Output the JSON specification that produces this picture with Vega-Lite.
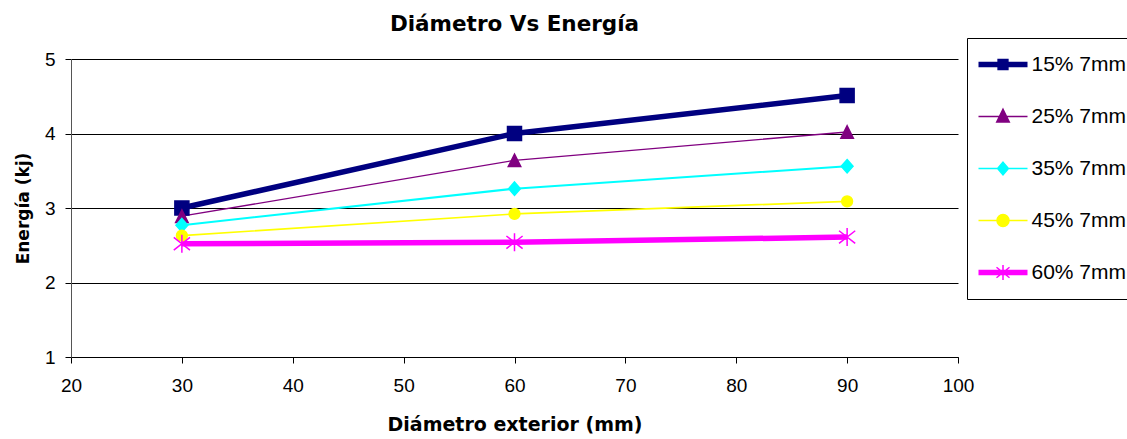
{
  "$schema": "https://vega.github.io/schema/vega-lite/v6.json",
  "width": 887,
  "height": 298,
  "autosize": {"type": "none"},
  "padding": {"left": 71, "top": 59, "right": 169, "bottom": 82},
  "background": "white",
  "title": {
    "text": "Diámetro Vs Energía",
    "font": "DejaVu Sans",
    "fontSize": 21.5,
    "fontWeight": "bold",
    "color": "black",
    "frame": "group",
    "anchor": "middle",
    "baseline": "alphabetic",
    "offset": -15
  },
  "config": {"view": {"stroke": null}, "font": "Liberation Sans"},
  "data": {
    "values": [
      {"series": "15% 7mm", "x": 30, "y": 3.0},
      {"series": "15% 7mm", "x": 60, "y": 4.0},
      {"series": "15% 7mm", "x": 90, "y": 4.51},
      {"series": "25% 7mm", "x": 30, "y": 2.89},
      {"series": "25% 7mm", "x": 60, "y": 3.64},
      {"series": "25% 7mm", "x": 90, "y": 4.02},
      {"series": "35% 7mm", "x": 30, "y": 2.77},
      {"series": "35% 7mm", "x": 60, "y": 3.26},
      {"series": "35% 7mm", "x": 90, "y": 3.56},
      {"series": "45% 7mm", "x": 30, "y": 2.63},
      {"series": "45% 7mm", "x": 60, "y": 2.92},
      {"series": "45% 7mm", "x": 90, "y": 3.09},
      {"series": "60% 7mm", "x": 30, "y": 2.52},
      {"series": "60% 7mm", "x": 60, "y": 2.54},
      {"series": "60% 7mm", "x": 90, "y": 2.61}
    ]
  },
  "encoding": {
    "x": {
      "field": "x",
      "type": "quantitative",
      "scale": {"domain": [20, 100], "nice": false, "zero": false},
      "axis": {
        "values": [20, 30, 40, 50, 60, 70, 80, 90, 100],
        "grid": false,
        "domainColor": "black",
        "domainWidth": 1,
        "tickColor": "black",
        "tickSize": 6,
        "labelFont": "Liberation Sans",
        "labelFontSize": 19,
        "labelColor": "black",
        "labelPadding": 13,
        "labelFlush": false,
        "labelOverlap": false,
        "title": "Diámetro exterior (mm)",
        "titleFont": "DejaVu Sans",
        "titleFontSize": 19,
        "titleFontWeight": "bold",
        "titleColor": "black",
        "titlePadding": 20
      }
    },
    "y": {
      "field": "y",
      "type": "quantitative",
      "scale": {"domain": [1, 5], "nice": false, "zero": false},
      "axis": {
        "values": [1, 2, 3, 4, 5],
        "grid": true,
        "gridColor": "black",
        "gridWidth": 1,
        "domainColor": "#555555",
        "domainWidth": 1,
        "tickColor": "black",
        "tickSize": 6,
        "labelFont": "Liberation Sans",
        "labelFontSize": 19,
        "labelColor": "black",
        "labelPadding": 10,
        "labelFlush": false,
        "labelOverlap": false,
        "title": "Energía (kj)",
        "titleFont": "DejaVu Sans",
        "titleFontSize": 17,
        "titleFontWeight": "bold",
        "titleColor": "black",
        "titlePadding": 12
      }
    }
  },
  "layer": [
    {
      "mark": {"type": "line", "strokeCap": "butt"},
      "encoding": {
        "stroke": {
          "field": "series",
          "type": "nominal",
          "scale": {"domain": ["15% 7mm", "25% 7mm", "35% 7mm", "45% 7mm", "60% 7mm"], "range": ["#000080", "#800080", "#00FFFF", "#FFFF00", "#FF00FF"]},
          "legend": null
        },
        "strokeWidth": {
          "field": "series",
          "type": "nominal",
          "scale": {"type": "ordinal", "domain": ["15% 7mm", "25% 7mm", "35% 7mm", "45% 7mm", "60% 7mm"], "range": [5.5, 1.3, 2, 1.7, 5.5]},
          "legend": null
        }
      }
    },
    {
      "mark": {"type": "point", "filled": true, "strokeWidth": 1.5, "opacity": 1},
      "encoding": {
        "fill": {
          "field": "series",
          "type": "nominal",
          "scale": {"domain": ["15% 7mm", "25% 7mm", "35% 7mm", "45% 7mm", "60% 7mm"], "range": ["#000080", "#800080", "#00FFFF", "#FFFF00", "#FF00FF"]},
          "legend": null
        },
        "stroke": {
          "field": "series",
          "type": "nominal",
          "scale": {"domain": ["15% 7mm", "25% 7mm", "35% 7mm", "45% 7mm", "60% 7mm"], "range": ["#000080", "#800080", "#00FFFF", "#FFFF00", "#FF00FF"]},
          "legend": null
        },
        "shape": {
          "field": "series",
          "type": "nominal",
          "scale": {
            "domain": ["15% 7mm", "25% 7mm", "35% 7mm", "45% 7mm", "60% 7mm"],
            "range": [
              "M-1,-1H1V1H-1Z",
              "M0,-1L1,1L-1,1Z",
              "M0,-1.13L1,0L0,1.13L-1,0Z",
              "circle",
              "M0,-1V1M-0.9,-0.7L0.9,0.7M-0.9,0.7L0.9,-0.7"
            ]
          },
          "legend": null
        },
        "size": {
          "field": "series",
          "type": "nominal",
          "scale": {"type": "ordinal", "domain": ["15% 7mm", "25% 7mm", "35% 7mm", "45% 7mm", "60% 7mm"], "range": [196, 156, 139, 117, 324]},
          "legend": null
        }
      }
    },
    {
      "transform": [{"filter": "datum.x > 1000"}],
      "mark": {"type": "point", "filled": true, "strokeWidth": 1.5, "opacity": 1},
      "encoding": {
        "fill": {
          "field": "series",
          "type": "nominal",
          "scale": {"domain": ["15% 7mm", "25% 7mm", "35% 7mm", "45% 7mm", "60% 7mm"], "range": ["#000080", "#800080", "#00FFFF", "#FFFF00", "#FF00FF"]},
          "legend": {"title": null, "orient": "none", "direction": "vertical", "legendX": 896, "legendY": -21, "symbolSize": 100, "symbolStrokeWidth": 1.5, "labelFont": "Liberation Sans", "labelFontSize": 21, "labelColor": "black", "labelLimit": 300, "strokeColor": "black", "fillColor": "white", "padding": 16, "rowPadding": 30, "symbolOffset": 9.5, "labelOffset": 18}
        },
        "stroke": {
          "field": "series",
          "type": "nominal",
          "scale": {"domain": ["15% 7mm", "25% 7mm", "35% 7mm", "45% 7mm", "60% 7mm"], "range": ["#000080", "#800080", "#00FFFF", "#FFFF00", "#FF00FF"]},
          "legend": {"title": null, "orient": "none", "direction": "vertical", "legendX": 896, "legendY": -21, "symbolSize": 100, "symbolStrokeWidth": 1.5, "labelFont": "Liberation Sans", "labelFontSize": 21, "labelColor": "black", "labelLimit": 300, "strokeColor": "black", "fillColor": "white", "padding": 16, "rowPadding": 30, "symbolOffset": 9.5, "labelOffset": 18}
        },
        "shape": {
          "field": "series",
          "type": "nominal",
          "scale": {
            "domain": ["15% 7mm", "25% 7mm", "35% 7mm", "45% 7mm", "60% 7mm"],
            "range": [
              "M-4.75,-0.42H4.75V0.42H-4.75ZM-0.98,-0.98H0.98V0.98H-0.98Z",
              "M-4.9,0H4.9M0,-1.45L1.25,1.1L-1.25,1.1Z",
              "M-4.9,0H4.9M0,-1.25L1.08,0L0,1.25L-1.08,0Z",
              "M-4.9,0H4.9M-1.2,0A1.2,1.2,0,1,1,1.2,0A1.2,1.2,0,1,1,-1.2,0Z",
              "M-4.75,-0.42H4.75V0.42H-4.75ZM0,-1.5V1.5M-1.3,-1.05L1.3,1.05M-1.3,1.05L1.3,-1.05"
            ]
          },
          "legend": {"title": null, "orient": "none", "direction": "vertical", "legendX": 896, "legendY": -21, "symbolSize": 100, "symbolStrokeWidth": 1.5, "labelFont": "Liberation Sans", "labelFontSize": 21, "labelColor": "black", "labelLimit": 300, "strokeColor": "black", "fillColor": "white", "padding": 16, "rowPadding": 30, "symbolOffset": 9.5, "labelOffset": 18}
        }
      }
    }
  ],
  "resolve": {
    "scale": {"stroke": "independent", "fill": "independent", "shape": "independent", "size": "independent", "strokeWidth": "independent"},
    "legend": {"stroke": "independent", "fill": "independent", "shape": "independent", "size": "independent", "strokeWidth": "independent"}
  }
}
